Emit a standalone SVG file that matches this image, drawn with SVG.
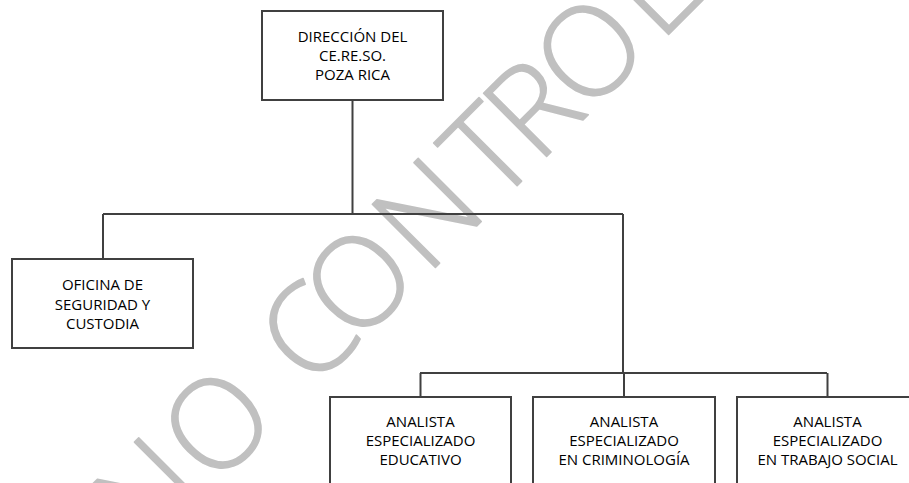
<svg xmlns="http://www.w3.org/2000/svg" width="909" height="483" viewBox="0 0 909 483">
<style>
.box{fill:#fff;stroke:#404040;stroke-width:2}
.lbl{font-family:"Open Sans","Noto Sans","DejaVu Sans",sans-serif;font-size:15px;fill:#000;text-anchor:middle}
.wm{font-family:"Open Sans","Noto Sans",sans-serif;font-weight:300;font-size:125px;fill:#c0c0c0;stroke:#c0c0c0;stroke-width:1.5;stroke-linejoin:round;text-anchor:middle}
.con{fill:none;stroke:#404040;stroke-width:2}
</style>
<rect width="909" height="483" fill="#fff"/>
<g id="watermark">
<text class="wm" transform="rotate(-45)" y="497"><tspan x="-244">N</tspan><tspan x="-146.4">O</tspan><tspan x="-17.7">C</tspan><tspan x="54.5">O</tspan><tspan x="151.3">N</tspan><tspan x="237.6">T</tspan><tspan x="300.6">R</tspan><tspan x="380.5">O</tspan><tspan x="468">L</tspan></text>
</g>
<g id="connectors">
<path class="con" d="M352.5,100 V214 M103,214 H623 M103,214 V259 M623,214 V373 M420,373 H827 M420.5,373 V397 M624,373 V397 M827.5,373 V397"/>
</g>
<g id="n-direccion">
<rect class="box" x="262" y="11" width="181" height="89"/>
<text class="lbl" x="352.5" y="42">DIRECCIÓN DEL</text>
<text class="lbl" x="352.5" y="61">CE.RE.SO.</text>
<text class="lbl" x="352.5" y="80">POZA RICA</text>
</g>
<g id="n-seguridad">
<rect class="box" x="12" y="259" width="181" height="89"/>
<text class="lbl" x="102.5" y="290">OFICINA DE</text>
<text class="lbl" x="102.5" y="309.5">SEGURIDAD Y</text>
<text class="lbl" x="102.5" y="329">CUSTODIA</text>
</g>
<g id="n-educativo">
<rect class="box" x="330" y="397" width="181" height="110"/>
<text class="lbl" x="420.5" y="427">ANALISTA</text>
<text class="lbl" x="420.5" y="446">ESPECIALIZADO</text>
<text class="lbl" x="420.5" y="465">EDUCATIVO</text>
</g>
<g id="n-criminologia">
<rect class="box" x="533" y="397" width="182" height="110"/>
<text class="lbl" x="624" y="427">ANALISTA</text>
<text class="lbl" x="624" y="446">ESPECIALIZADO</text>
<text class="lbl" x="624" y="465">EN CRIMINOLOGÍA</text>
</g>
<g id="n-trabajo-social">
<rect class="box" x="737" y="397" width="181" height="110"/>
<text class="lbl" x="827.5" y="427">ANALISTA</text>
<text class="lbl" x="827.5" y="446">ESPECIALIZADO</text>
<text class="lbl" x="827.5" y="465">EN TRABAJO SOCIAL</text>
</g>
</svg>
